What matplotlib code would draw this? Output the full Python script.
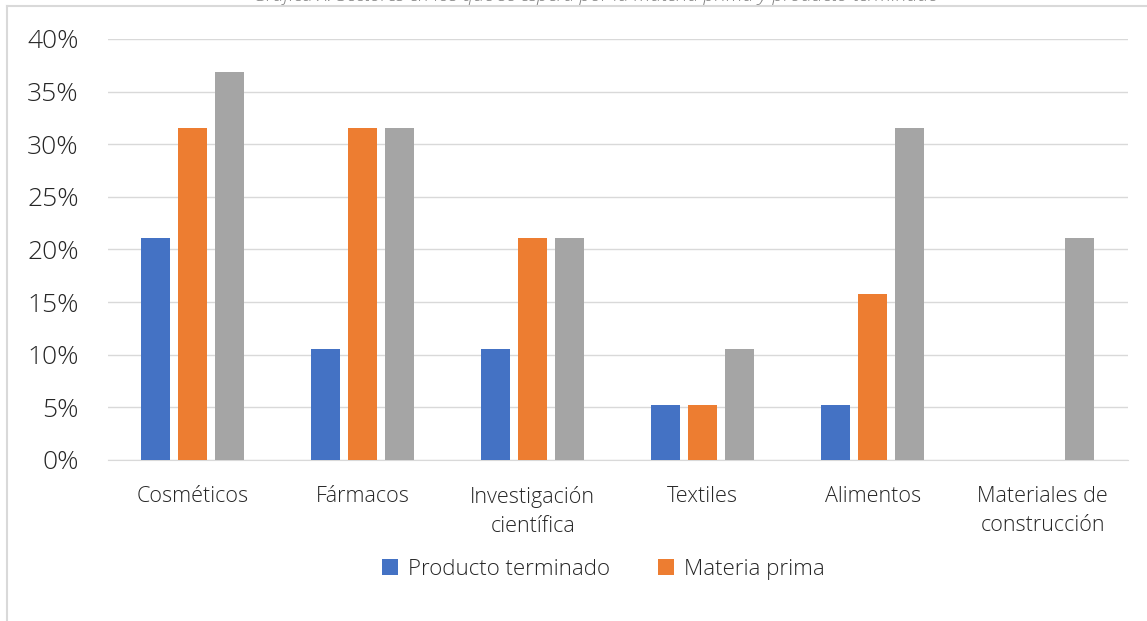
import matplotlib.pyplot as plt
import numpy as np
from matplotlib.lines import Line2D
from matplotlib.ticker import PercentFormatter

plt.rcParams['font.family'] = ['Open Sans', 'DejaVu Sans']
plt.rcParams['font.weight'] = 'light'

categorias = ["Cosméticos", "Fármacos", "Investigación\ncientífica", "Textiles",
              "Alimentos", "Materiales de\nconstrucción"]
producto_terminado = [21.05, 10.53, 10.53, 5.26, 5.26, 0.0]
materia_prima = [31.58, 31.58, 21.05, 5.26, 15.79, 0.0]
ambos = [36.84, 31.58, 21.05, 10.53, 31.58, 21.05]
y_ticks = [0, 5, 10, 15, 20, 25, 30, 35, 40]

azul, naranja, gris = "#4472C4", "#ED7D31", "#A5A5A5"

fig = plt.figure(figsize=(11.47, 6.21), dpi=100)
ax = fig.add_axes([0.094, 0.2593, 0.889, 0.678])

x = np.arange(len(categorias))
w = 0.17
step = 0.218
b1 = ax.bar(x - step, producto_terminado, w, color=azul, label="Producto terminado", zorder=3)
b2 = ax.bar(x, materia_prima, w, color=naranja, label="Materia prima", zorder=3)
b3 = ax.bar(x + step, ambos, w, color=gris, zorder=3)

ax.set_xlim(-0.5, len(categorias) - 0.5)
ax.set_ylim(0, 40)
ax.set_yticks(y_ticks)
ax.yaxis.set_major_formatter(PercentFormatter(decimals=0))
ax.grid(axis="y", color="#D9D9D9", linewidth=1, zorder=0)
for s in ["top", "right", "left"]:
    ax.spines[s].set_visible(False)
ax.spines["bottom"].set_color("#D9D9D9")
ax.tick_params(axis="both", length=0)
ax.tick_params(axis="y", labelsize=19, colors="#262626", pad=21)
ax.set_xticks(x)
ax.set_xticklabels(categorias, fontsize=15.5, color="#262626", linespacing=1.5)
ax.tick_params(axis="x", pad=19)

fig.legend(handles=[b1, b2], loc="center", bbox_to_anchor=(0.526, 0.083), ncol=2,
           frameon=False, fontsize=16, handlelength=0.7, handleheight=0.7,
           columnspacing=2.2, handletextpad=0.45, labelcolor="#262626")

# titulo recortado en la parte superior
fig.text(0.52, 1 - 1 / 621,
         "Gráfica X. Sectores en los que se espera por la materia prima y producto terminado",
         ha="center", va="baseline", fontsize=14, style="italic", color="#7F7F7F")

# borde del área del gráfico
fig.add_artist(Line2D([7 / 1147, 7 / 1147], [0, 1 - 6 / 621], color="#D9D9D9", lw=1.5))
fig.add_artist(Line2D([7 / 1147, 1], [1 - 6 / 621, 1 - 6 / 621], color="#D9D9D9", lw=1.5))

fig.savefig("out.png", dpi=100)
